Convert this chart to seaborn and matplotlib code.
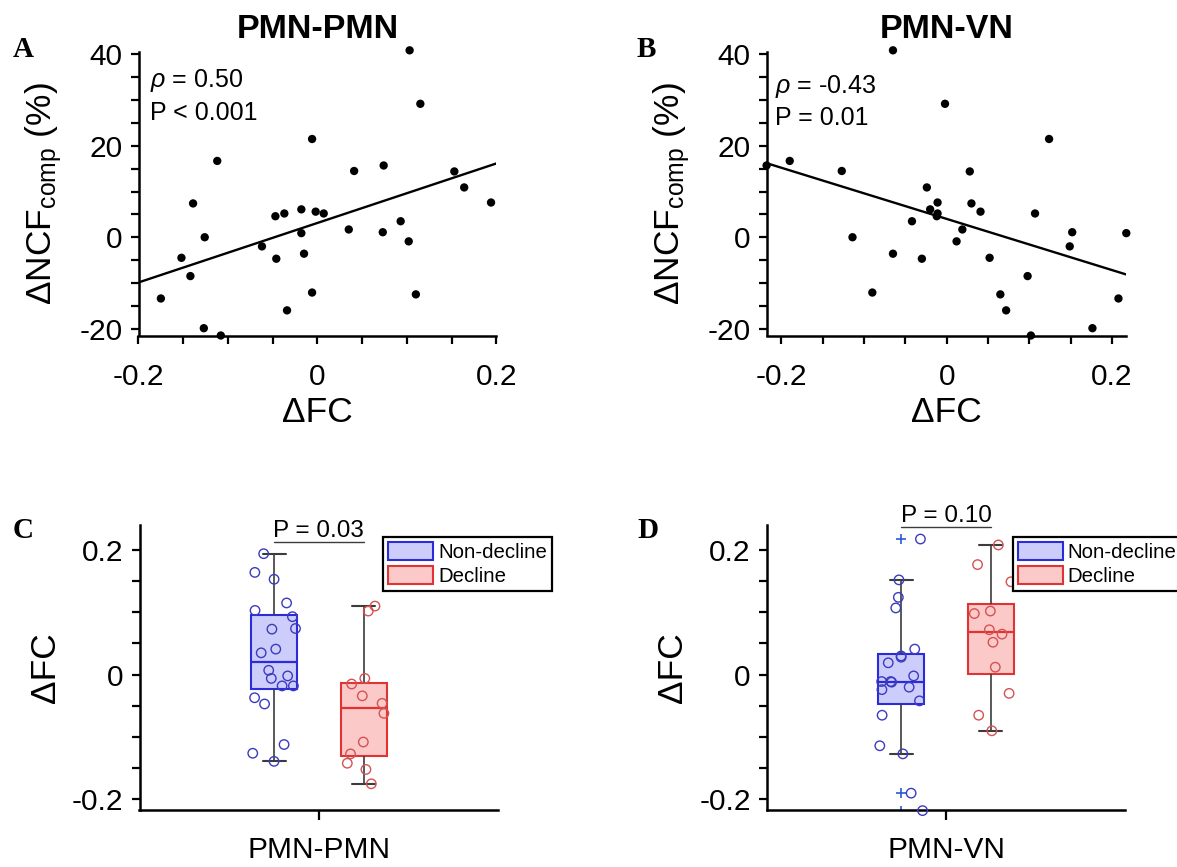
import numpy as np
import pandas as pd
import matplotlib
matplotlib.use("Agg")
import matplotlib.pyplot as plt
from matplotlib.patches import Patch
from matplotlib.ticker import FixedLocator, MultipleLocator, FuncFormatter
import seaborn as sns

# ---- data: one entry per participant -------------------------------------
# change in composite neurocognitive function (%)
ncf = [40.9, 29.2, 21.5, 16.7, 15.7, 14.5, 14.4, 10.9, 7.6, 7.4, 6.1, 5.6,
       5.2, 5.2, 4.6, 3.5, 1.7, 1.1, 0.9, 0.0, -0.9, -2.0, -3.6, -4.5,
       -4.7, -8.5, -12.1, -12.5, -13.4, -16.0, -19.9, -21.5]
# change in PMN-PMN functional connectivity
fc_pmn = [0.103, 0.115, -0.006, -0.112, 0.074, 0.041, 0.153, 0.164, 0.194,
          -0.139, -0.018, -0.002, 0.007, -0.037, -0.047, 0.093, 0.035, 0.073,
          -0.018, -0.126, 0.102, -0.062, -0.015, -0.152, -0.046, -0.142,
          -0.006, 0.110, -0.175, -0.034, -0.127, -0.108]
# change in PMN-VN functional connectivity
fc_vn = [-0.065, -0.002, 0.124, -0.190, -0.218, -0.127, 0.028, -0.024, -0.011,
         0.030, -0.020, 0.041, 0.107, -0.011, -0.012, -0.042, 0.019, 0.152,
         0.2175, -0.114, 0.012, 0.149, -0.065, 0.052, -0.030, 0.098, -0.090,
         0.065, 0.208, 0.072, 0.1765, 0.102]

networks = ["PMN-PMN", "PMN-VN"]
groups = ["Non-decline", "Decline"]
corr_labels = {"PMN-PMN": [r"$\it{\rho}$ = 0.50", "P < 0.001"],
               "PMN-VN": [r"$\it{\rho}$ = -0.43", "P = 0.01"]}
group_p_labels = {"PMN-PMN": "P = 0.03", "PMN-VN": "P = 0.10"}
panel_letters = ["A", "B", "C", "D"]

df = pd.DataFrame({"ncf": ncf, "PMN-PMN": fc_pmn, "PMN-VN": fc_vn})
df["group"] = np.where(df["ncf"] < 0, "Decline", "Non-decline")
long = df.melt(id_vars=["ncf", "group"], value_vars=networks,
               var_name="network", value_name="fc")

# ---- style ---------------------------------------------------------------
sns.set_theme(style="ticks")
plt.rcParams["font.family"] = ["Liberation Sans", "DejaVu Sans"]
plt.rcParams["mathtext.fontset"] = "custom"
plt.rcParams["mathtext.rm"] = "Liberation Sans"
plt.rcParams["mathtext.it"] = "Liberation Sans:italic"
plt.rcParams["mathtext.bf"] = "Liberation Sans:bold"
for key in ("text.color", "axes.labelcolor", "xtick.color", "ytick.color"):
    plt.rcParams[key] = "black"

box_face = {"Non-decline": "#cdcdfb", "Decline": "#fcc9c9"}
box_edge = {"Non-decline": "#2b2bd9", "Decline": "#e03434"}
pt_color = {"Non-decline": "#3b3bc2", "Decline": "#d45252"}
whisker_color = "#3c3c3c"

TICK_FS = 21.5
LABEL_FS = 25.5

W, H = 1177, 867
fig = plt.figure(figsize=(W / 100, H / 100), dpi=100)


def axes_px(left, top, right, bottom):
    return fig.add_axes([left / W, 1 - bottom / H, (right - left) / W,
                         (bottom - top) / H])


axA = axes_px(138.5, 51.7, 496.4, 335.5)
axB = axes_px(766.6, 51.7, 1126.3, 335.5)
axC = axes_px(139.5, 525.0, 498.3, 810.0)
axD = axes_px(766.6, 525.0, 1125.3, 810.0)

fmt = FuncFormatter(lambda v, p: f"{v:g}")


def base_style(ax):
    sns.despine(ax=ax)
    for s in ("left", "bottom"):
        ax.spines[s].set_linewidth(1.8)
        ax.spines[s].set_color("black")
    ax.tick_params(which="both", direction="out", length=5.5, width=1.6,
                   colors="black", labelsize=TICK_FS)
    ax.tick_params(axis="y", which="both", pad=6.0)


# ---- scatter panels (A, B) -------------------------------------------
for ax, net in zip((axA, axB), networks):
    xlim = (-0.2, 0.2) if net == "PMN-PMN" else (min(fc_vn), max(fc_vn))
    ax.set_xlim(xlim)
    ax.set_ylim(-21.5, 40.6)
    sns.regplot(data=df, x=net, y="ncf", scatter=False, ci=None,
                truncate=False, color="black", line_kws={"lw": 1.7}, ax=ax)
    sns.scatterplot(data=df, x=net, y="ncf", color="black", s=36,
                    edgecolor="none", clip_on=False, zorder=3, ax=ax)
    ax.set_xlim(xlim)
    ax.set_ylim(-21.5, 40.6)
    base_style(ax)
    ax.tick_params(axis="x", which="both", pad=14.5)
    ax.xaxis.set_major_locator(FixedLocator([-0.2, 0.0, 0.2]))
    ax.xaxis.set_minor_locator(MultipleLocator(0.05))
    ax.yaxis.set_major_locator(FixedLocator([-20, 0, 20, 40]))
    ax.yaxis.set_minor_locator(MultipleLocator(5))
    ax.xaxis.set_major_formatter(fmt)
    ax.yaxis.set_major_formatter(fmt)

    ax.set_xlabel("ΔFC", fontsize=LABEL_FS)
    ax.xaxis.label.set_va("baseline")
    ax.xaxis.set_label_coords(0.5, -0.3048)
    ax.set_ylabel(r"$\Delta\mathrm{NCF}_{\mathrm{comp}}$ (%)", fontsize=LABEL_FS)
    ax.yaxis.label.set_va("baseline")
    ax.yaxis.set_label_coords(-0.2423, 0.5)
    ax.set_title(net, fontsize=24.5, fontweight="bold", pad=9.9)

    tx, ty1, ty2 = (0.032, 0.874, 0.760) if net == "PMN-PMN" else (0.0234, 0.856, 0.742)
    for ty, label in zip((ty1, ty2), corr_labels[net]):
        ax.text(tx, ty, label, transform=ax.transAxes, fontsize=18,
                ha="left", va="baseline")

# ---- box panels (C, D) -----------------------------------------------
for ax, net in zip((axC, axD), networks):
    sub = long[long["network"] == net]
    for g in groups:
        sns.boxplot(data=sub[sub["group"] == g], x="network", y="fc",
                    hue="group", hue_order=groups, order=[net], dodge=True,
                    width=0.8, gap=0.485, palette=box_face, saturation=1,
                    linecolor=box_edge[g], linewidth=1.5, whis=1.6,
                    whiskerprops={"color": whisker_color, "linewidth": 1.2},
                    capprops={"color": whisker_color, "linewidth": 1.5},
                    medianprops={"color": box_edge[g], "linewidth": 1.6},
                    flierprops={"marker": "+", "markeredgecolor": "#2a5bd7",
                                "markersize": 7, "markeredgewidth": 1.2},
                    legend=False, ax=ax)
    n_before = len(ax.collections)
    np.random.seed(7)
    sns.stripplot(data=sub, x="network", y="fc", hue="group",
                  hue_order=groups, order=[net], dodge=True, jitter=0.2,
                  palette=pt_color, size=6.8, linewidth=0, legend=False,
                  clip_on=False, zorder=4, ax=ax)
    for coll in ax.collections[n_before:]:
        colors = coll.get_facecolors()
        coll.set_facecolors("none")
        coll.set_edgecolors(colors)
        coll.set_linewidth(1.0)

    ax.set_xlim(-0.8, 0.8)
    ax.set_ylim(-0.217, 0.24)
    base_style(ax)
    ax.yaxis.set_major_locator(FixedLocator([-0.2, 0.0, 0.2]))
    ax.yaxis.set_minor_locator(MultipleLocator(0.05))
    ax.yaxis.set_major_formatter(fmt)
    ax.tick_params(axis="x", which="major", length=7.5, pad=11.5,
                   labelsize=21.5)
    ax.set_xlabel("")
    ax.set_ylabel("ΔFC", fontsize=LABEL_FS)
    ax.yaxis.label.set_va("baseline")
    ax.yaxis.set_label_coords(-0.235, 0.5)

    # significance bracket between the two groups
    y_line = 0.2128 if net == "PMN-PMN" else 0.2374
    ax.plot([-0.2, 0.2], [y_line, y_line], color=whisker_color, lw=1.0,
            clip_on=False)
    ax.text(0.0, y_line + 0.0076, group_p_labels[net], ha="center",
            va="baseline", fontsize=17.5)

    handles = [Patch(facecolor=box_face[g], edgecolor=box_edge[g],
                     linewidth=1.5, label=g) for g in groups]
    x0 = 383.3 if net == "PMN-PMN" else 1012.7
    leg = ax.legend(handles=handles, loc="upper left",
                    bbox_to_anchor=(x0 / W, 1 - 536.7 / H),
                    bbox_transform=fig.transFigure, borderaxespad=0,
                    frameon=True, fancybox=False, edgecolor="black",
                    fontsize=14.7, handlelength=2.2, handleheight=1.0,
                    handletextpad=0.25, labelspacing=0.2, borderpad=0.25)
    leg.get_frame().set_linewidth(1.6)
    leg.get_frame().set_alpha(1)

# ---- panel letters ---------------------------------------------------
for letter, (x, y) in zip(panel_letters,
                          [(13, 57), (637, 57), (13, 538), (637, 538)]):
    fig.text(x / W, 1 - y / H, letter, family="Liberation Serif",
             fontweight="bold", fontsize=21, ha="left", va="baseline")

fig.savefig("out.png", dpi=100)
